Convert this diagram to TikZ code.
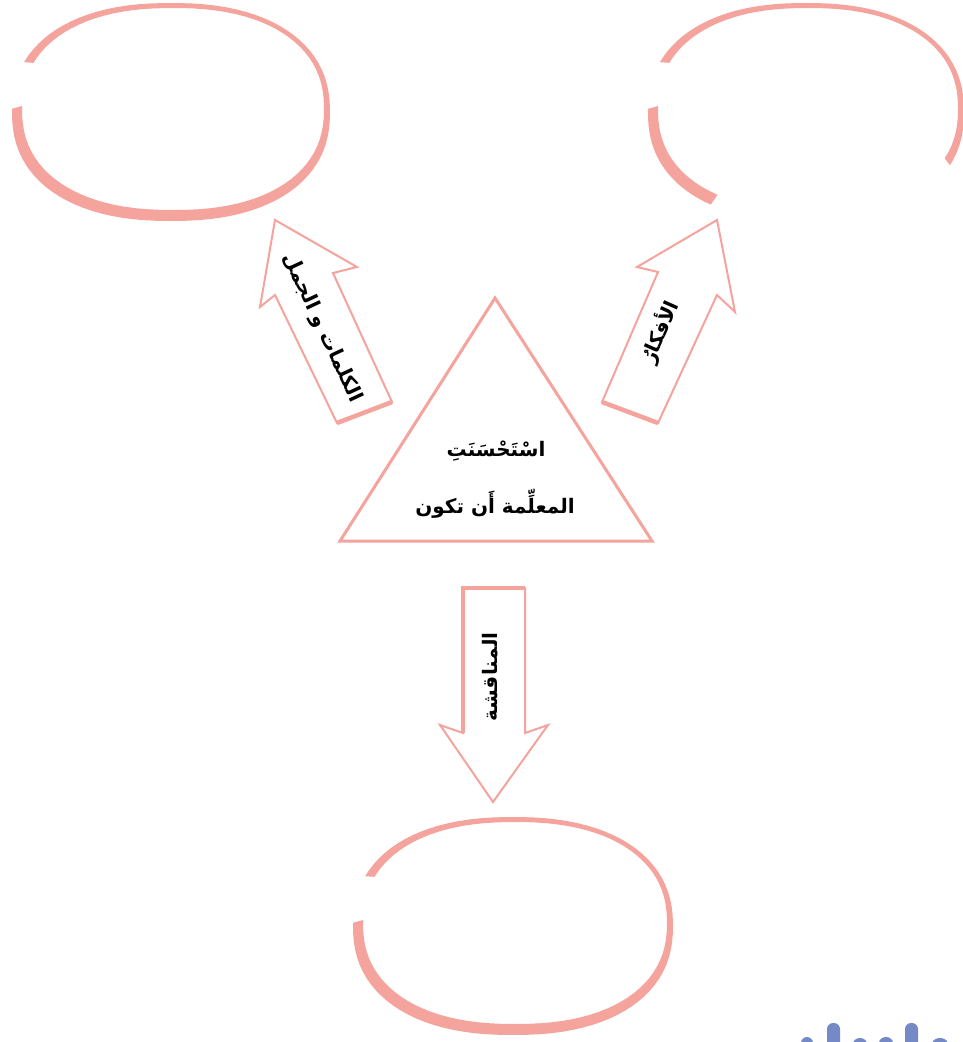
\documentclass[tikz,border=0pt]{standalone}
\usepackage{fontspec}
\newfontfamily\arabicfont[Script=Arabic]{DejaVu Sans}
\TeXXeTstate=1
\definecolor{rimpink}{HTML}{F4A39D}
\definecolor{inkblue}{HTML}{7489C6}
\tikzset{
  arrowline/.style={draw=rimpink,line width=2pt,line join=miter,fill=white},
  labeltext/.style={font=\arabicfont\bfseries\fontsize{20}{23}\selectfont,inner sep=0pt}
}
% hand-drawn rim: centre x, centre y, x radius, start angle, end angle
\newcommand{\rimarc}[5]{%
  \fill[rimpink] plot[domain=#4:#5,samples=90]
      ({#1+#3*cos(\x)*pow(abs(cos(\x))+0.001,-0.13)},{#2+109*sin(\x)*pow(abs(sin(\x))+0.001,-0.13)})
    -- plot[domain=#5:#4,samples=90]
      ({#1+2+(#3-8)*cos(\x)*pow(abs(cos(\x))+0.001,-0.13)},{#2-3+101*sin(\x)*pow(abs(sin(\x))+0.001,-0.13)})
    -- cycle;}

\begin{document}
\begin{tikzpicture}[x=1pt,y=-1pt]
        \useasboundingbox (0,0) rectangle (962,1042);
        % ovals
        \rimarc{171}{112}{159}{204}{541}
        \rimarc{806}{112}{158}{204}{386}
        \rimarc{806}{112}{158}{124}{181}
        \rimarc{513}{926}{160}{204}{541}
        % triangle
        \draw[rimpink,line width=3pt,line join=miter] (495,298) -- (340,541) -- (652,541) -- cycle;
        \node[labeltext] (praise) at (496,451) {\beginR اسْتَحْسَنَتِ\endR};
        \node[labeltext] (teacher) at (495,504) {\beginR المعلِّمة أَن تكون\endR};
        % arrows
        \draw[arrowline] (337,423) -- (275,295) -- (260,307) -- (275,220) -- (357,267) -- (333,273) -- (392,402) -- cycle;
        \draw[rimpink,line width=4.5pt] (337,423) -- (392,402);
        \draw[arrowline] (602,402) -- (658,272) -- (637,267) -- (717,220) -- (735,312) -- (717,295) -- (658,423) -- cycle;
        \draw[rimpink,line width=4.5pt] (602,402) -- (658,423);
        \draw[arrowline] (463,588) -- (525,588) -- (525,733) -- (548,725) -- (493,802) -- (440,725) -- (463,733) -- cycle;
        \draw[rimpink,line width=4.5pt] (463,733) -- (463,588) -- (525,588);
        \node[labeltext,rotate=-65] (words) at (322,328) {\beginR الكلمات و الجمل\endR};
        \node[labeltext,rotate=66] (ideas) at (660,332) {\beginR الأفكارُ\endR};
        \node[labeltext,rotate=90] (talk) at (490,677) {\beginR المناقشة\endR};
        % cut-off title
        \begin{scope}
          \clip (0,0) rectangle (962,1042);
          \fill[inkblue,rounded corners=6pt] (827,1023) rectangle (840,1060);
          \fill[inkblue,rounded corners=6pt] (905,1023) rectangle (918,1060);
          \fill[inkblue] (807,1043) ellipse[x radius=6,y radius=6];
          \fill[inkblue] (860,1044) ellipse[x radius=7,y radius=6];
          \fill[inkblue] (886,1043) ellipse[x radius=7,y radius=6];
          \fill[inkblue] (940,1044) ellipse[x radius=8,y radius=6];
        \end{scope}
      \end{tikzpicture}
\end{document}
